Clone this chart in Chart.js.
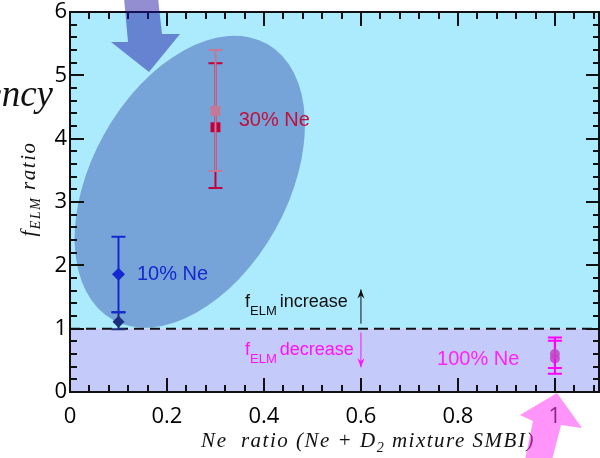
<!DOCTYPE html>
<html>
<head>
<meta charset="utf-8">
<script src="https://cdn.jsdelivr.net/npm/chart.js@4/dist/chart.umd.min.js"></script>
<style>
  html, body { margin: 0; padding: 0; background: #fff; overflow: hidden; }
  canvas { display: block; }
</style>
</head>
<body>
<canvas id="myChart" width="607" height="458"></canvas>
<script>
// values
const seriesNames = ['10% Ne', '10% Ne (b)', '30% Ne', '30% Ne (b)', '100% Ne', '100% Ne (b)'];
const neRatio = [0.1, 0.1, 0.3, 0.3, 1.0, 1.0];
const felmRatio = [1.86, 1.11, 4.44, 4.18, 0.60, 0.53];
const errLow = [1.26, 0.99, 3.49, 3.22, 0.38, 0.29];
const errHigh = [2.45, 1.26, 5.40, 5.19, 0.81, 0.86];
const xTickValues = [0, 0.2, 0.4, 0.6, 0.8, 1];
const yTickValues = [0, 1, 2, 3, 4, 5, 6];
const threshold = 1;

const markerColors = ['#1428d0', '#1c2f7e', '#c47896', '#c0003c', 'rgba(195,70,195,0.85)', 'rgba(195,70,195,0.85)'];
const barColors = ['#1428d0', '#1c2f7e', '#c47896', '#c0003c', '#ff00ff', '#ff00ff'];
const markerStyles = ['rectRot', 'rectRot', 'rect', 'rect', 'circle', 'circle'];
const markerSizes = [6.5, 6, 7, 7, 5, 5];
// chart.js draws dataset 0 last, so this list goes from top to bottom
const drawOrder = [2, 0, 1, 3, 4, 5];

const ctx = document.getElementById('myChart');
const XMAX = 1.093;

const datasets = drawOrder.map(i => ({
  label: seriesNames[i],
  data: [{x: neRatio[i], y: felmRatio[i]}],
  src: i,
  pointStyle: markerStyles[i],
  pointRadius: markerSizes[i],
  backgroundColor: markerColors[i],
  borderColor: markerColors[i],
  borderWidth: 0,
}));

const serifBig = 'italic 21px "Liberation Serif", serif';
const serifSub = 'italic 14px "Liberation Serif", serif';
const sans = '"Liberation Sans", Arial, sans-serif';

function arrow(c, px, y0, y1, color) {
  c.strokeStyle = color; c.fillStyle = color; c.lineWidth = 1;
  c.beginPath(); c.moveTo(px, y0); c.lineTo(px, y1); c.stroke();
  const d = y1 < y0 ? 1 : -1;
  c.beginPath(); c.moveTo(px, y1); c.lineTo(px - 3.5, y1 + d * 9); c.lineTo(px, y1 + d * 6); c.lineTo(px + 3.5, y1 + d * 9); c.closePath(); c.fill();
}

function felmText(c, px, py, rest, color) {
  c.fillStyle = color;
  c.textBaseline = 'alphabetic'; c.textAlign = 'left';
  c.font = '18px ' + sans;
  c.fillText('f', px, py);
  let w = c.measureText('f').width;
  c.font = '13px ' + sans;
  c.fillText('ELM', px + w, py + 8);
  w += c.measureText('ELM').width + 3;
  c.font = '18px ' + sans;
  c.fillText(rest, px + w, py);
}

function mathText(c, cx, base, parts) {
  let total = 0;
  parts.forEach(p => { c.font = p[1] ? serifSub : serifBig; total += c.measureText(p[0]).width; });
  let sx = cx - total / 2;
  parts.forEach(p => {
    c.font = p[1] ? serifSub : serifBig;
    c.fillText(p[0], sx, base + (p[1] ? 5 : 0));
    sx += c.measureText(p[0]).width;
  });
}

const decor = {
  id: 'decor',
  beforeDatasetsDraw(chart) {
    const {ctx: c, chartArea: a, scales} = chart;
    const xs = scales.x, ys = scales.y;
    const yl = ys.getPixelForValue(threshold);
    c.save();
    c.fillStyle = '#abebfd';
    c.fillRect(a.left, a.top, a.right - a.left, yl - a.top);
    c.fillStyle = '#c4cbfb';
    c.fillRect(a.left, yl, a.right - a.left, a.bottom - yl);
    c.fillStyle = '#77a4d8';
    c.beginPath();
    c.ellipse(xs.getPixelForValue(0.247), ys.getPixelForValue(3.32), 158, 98, -60.8 * Math.PI / 180, 0, Math.PI * 2);
    c.fill();
    c.strokeStyle = '#111'; c.lineWidth = 2; c.setLineDash([10, 6]);
    c.beginPath(); c.moveTo(a.left, yl); c.lineTo(a.right, yl); c.stroke();
    c.setLineDash([]);
    c.restore();
  },
  beforeDatasetDraw(chart, args) {
    const {ctx: c, scales} = chart;
    const i = chart.data.datasets[args.index].src;
    const px = scales.x.getPixelForValue(neRatio[i]);
    const lo = scales.y.getPixelForValue(errLow[i]), hi = scales.y.getPixelForValue(errHigh[i]);
    c.save();
    c.strokeStyle = barColors[i]; c.lineWidth = 2;
    c.beginPath();
    c.moveTo(px, lo); c.lineTo(px, hi);
    c.moveTo(px - 7, lo); c.lineTo(px + 7, lo);
    c.moveTo(px - 7, hi); c.lineTo(px + 7, hi);
    c.stroke();
    c.restore();
  },
  afterDatasetsDraw(chart) {
    const {ctx: c, scales} = chart;
    const xs = scales.x, ys = scales.y;
    c.save();
    c.font = '20px ' + sans; c.textBaseline = 'middle'; c.textAlign = 'left';
    c.fillStyle = '#c0103c'; c.fillText('30% Ne', xs.getPixelForValue(0.348), ys.getPixelForValue(4.29));
    c.fillStyle = '#1428d0'; c.fillText('10% Ne', xs.getPixelForValue(0.138), ys.getPixelForValue(1.86));
    c.fillStyle = '#ff22ff'; c.fillText('100% Ne', xs.getPixelForValue(0.757), ys.getPixelForValue(0.52));
    felmText(c, xs.getPixelForValue(0.361), ys.getPixelForValue(1.34), 'increase', '#111');
    felmText(c, xs.getPixelForValue(0.361), ys.getPixelForValue(0.58), 'decrease', '#ff10ff');
    arrow(c, xs.getPixelForValue(0.6), ys.getPixelForValue(1.08), ys.getPixelForValue(1.62), '#111');
    arrow(c, xs.getPixelForValue(0.6), ys.getPixelForValue(0.94), ys.getPixelForValue(0.39), '#ff10ff');
    c.restore();
  },
};

// frame and inward ticks, drawn as filled rectangles
const frame = {
  id: 'frame',
  afterDraw(chart) {
    const c = chart.ctx, a = chart.chartArea;
    const xs = chart.scales.x, ys = chart.scales.y;
    const L = Math.round(a.left), T = Math.round(a.top), R = Math.round(a.right), B = Math.round(a.bottom);
    c.save();
    c.fillStyle = '#111';
    c.fillRect(L - 1, T - 1, R - L + 1, 2);
    c.fillRect(L - 1, B - 1, R - L + 1, 2);
    c.fillRect(L - 1, T - 1, 2, B - T + 2);
    c.fillRect(R - 2, T - 1, 2, B - T + 2);
    for (let k = 0; k * 0.04 <= XMAX + 1e-6; k++) {
      const px = Math.round(xs.getPixelForValue(k * 0.04));
      const len = k % 5 === 0 ? 14 : 7;
      c.fillRect(px - 1, B - len, 2, len);
      c.fillRect(px - 1, T, 2, len);
    }
    for (let k = 0; k <= 30; k++) {
      const py = Math.round(ys.getPixelForValue(k * 0.2));
      const len = k % 5 === 0 ? 14 : 7;
      c.fillRect(L, py - 1, len, 2);
      c.fillRect(R - len, py - 1, len, 2);
    }
    c.restore();
  }
};

const titles = {
  id: 'titles',
  afterDraw(chart) {
    const c = chart.ctx;
    c.save();
    c.fillStyle = '#111';
    c.textBaseline = 'alphabetic';
    c.textAlign = 'left';
    c.letterSpacing = '1.5px';
    mathText(c, 368, 447, [['Ne  ratio (Ne + D', false], ['2', true], [' mixture SMBI)', false]]);
    c.save();
    c.translate(35, 189); c.rotate(-Math.PI / 2);
    mathText(c, 0, 0, [['f', false], ['ELM', true], [' ratio', false]]);
    c.restore();
    c.letterSpacing = '0px';

    // cut slide title and the two pointing arrows
    c.font = 'italic 37px "Liberation Serif", serif';
    c.textAlign = 'right';
    c.fillText('frequency', 53, 106);

    c.fillStyle = 'rgba(25,15,160,0.47)';
    c.beginPath();
    [[124, -2], [158, -2], [162, 34], [180, 34], [149, 72], [111, 42], [128, 42]].forEach((p, k) => k ? c.lineTo(p[0], p[1]) : c.moveTo(p[0], p[1]));
    c.closePath(); c.fill();

    c.fillStyle = 'rgba(255,60,245,0.55)';
    c.beginPath();
    [[525, 460], [533, 421], [520, 415], [557, 393], [582, 428], [561, 425], [552, 460]].forEach((p, k) => k ? c.lineTo(p[0], p[1]) : c.moveTo(p[0], p[1]));
    c.closePath(); c.fill();
    c.restore();
  }
};

const tickFont = {family: '"Open Sans", sans-serif', size: 22};

new Chart(ctx, {
  type: 'scatter',
  data: {datasets},
  options: {
    responsive: false,
    animation: false,
    layout: {padding: {top: 12, right: 0, left: 0, bottom: 0}},
    plugins: {legend: {display: false}, tooltip: {enabled: false}},
    scales: {
      x: {
        type: 'linear', min: 0, max: XMAX,
        grid: {display: false, drawTicks: false}, border: {display: false},
        afterBuildTicks: s => { s.ticks = xTickValues.map(v => ({value: v})); },
        afterFit: s => { s.height = 66; s.paddingLeft = 0; s.paddingRight = 0; },
        ticks: {padding: 12, font: tickFont, color: '#000', maxRotation: 0, autoSkip: false,
          callback: v => String(+(+v).toFixed(2))},
      },
      y: {
        type: 'linear', min: 0, max: 6,
        grid: {display: false, drawTicks: false}, border: {display: false},
        afterBuildTicks: s => { s.ticks = yTickValues.map(v => ({value: v})); },
        afterFit: s => { s.width = 70; s.paddingTop = 0; s.paddingBottom = 0; },
        ticks: {padding: 3, font: tickFont, color: '#000', autoSkip: false},
      },
    },
  },
  plugins: [decor, frame, titles],
});
</script>
</body>
</html>
